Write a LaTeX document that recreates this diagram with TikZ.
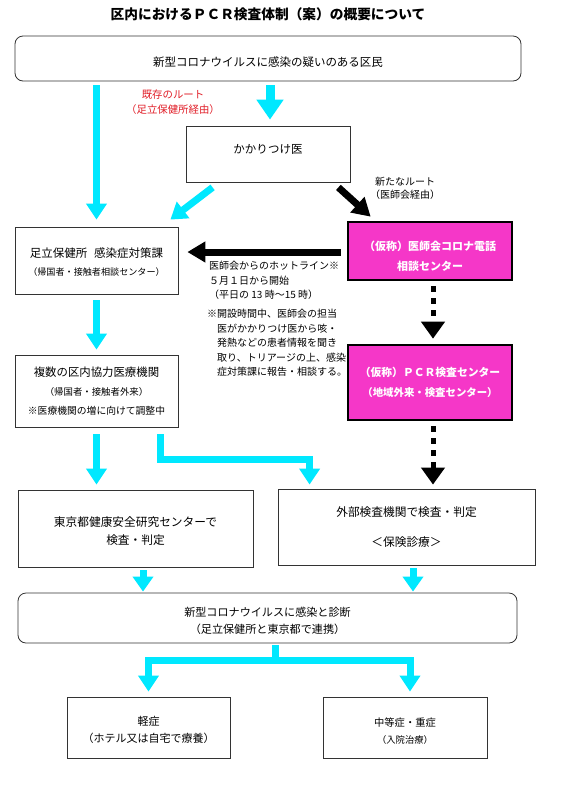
\documentclass[tikz,border=0pt]{standalone}
\usepackage{fontspec}
\setmainfont{Noto Sans CJK JP}
\usetikzlibrary{arrows.meta,calc}
\definecolor{cyC}{RGB}{0,232,255}
\definecolor{mgC}{RGB}{245,55,200}
\definecolor{rdC}{RGB}{225,30,40}
\newcommand{\fsz}[2]{\fontsize{#1}{#2}\selectfont}
\begin{document}
\begin{tikzpicture}[x=1pt,y=-1pt,
  box/.style={draw=black!80, line width=0.8pt, fill=white, inner sep=0pt, align=center, font=\fsz{11.5}{19}},
  rbox/.style={box, rounded corners=8pt},
  mbox/.style={draw=black, line width=2.6pt, fill=mgC, inner sep=0pt, align=center, text=white, font=\bfseries\fsz{11}{20}},
  cyA/.style={draw=cyC, line width=7pt, line join=miter, -{Triangle[width=20pt,length=16pt]}},
  cyB/.style={draw=cyC, line width=9pt, -{Triangle[width=26pt,length=20pt]}},
  cyS/.style={draw=cyC, line width=7pt, -{Triangle[width=20pt,length=15pt]}},
  bkA/.style={draw=black, line width=7pt, -{Triangle[width=20pt,length=18pt]}},
  bkD/.style={draw=black, line width=5pt, dash pattern=on 6pt off 6pt, -{Triangle[width=23pt,length=17pt]}},
  note/.style={inner sep=0pt, align=left, font=\fsz{10}{14.5}},
]
\useasboundingbox (0,0) rectangle (570,801);
\fill[white] (0,0) rectangle (570,801);

% title
\node[inner sep=0pt, font=\bfseries\fsz{13.7}{16}] (title) at (268,14) {区内におけるＰＣＲ検査体制（案）の概要について};

% boxes
\node[rbox, minimum width=506pt, minimum height=45pt] (top) at (268,58.5) {\rule{0pt}{17pt}新型コロナウイルスに感染の疑いのある区民};
\node[box, minimum width=164pt, minimum height=56pt] (kakari) at (268,154) {\rule[-9.5pt]{0pt}{9.5pt}かかりつけ医};
\node[box, minimum width=163pt, minimum height=67pt] (adachi) at (96.5,260.5)
  {\rule{0pt}{13pt}足立保健所\hspace{0.6em}感染症対策課\\[-1pt]{\fsz{9.1}{12}（帰国者・接触者相談センター）}};
\node[mbox, minimum width=164pt, minimum height=58pt] (ishikai) at (430,251)
  {\rule{0pt}{21pt}（仮称）医師会コロナ電話\\相談センター};
\node[mbox, minimum width=164pt, minimum height=75pt, font=\bfseries\fsz{10.8}{20}] (pcr) at (430,382.5)
  {（仮称）ＰＣＲ検査センター\\{\fsz{10.4}{12}（地域外来・検査センター）}};
\node[box, minimum width=163pt, minimum height=72pt, font=\fsz{11.4}{19}] (fukusu) at (96.5,391)
  {複数の区内協力医療機関\\{\fsz{9.4}{12}（帰国者・接触者外来）}\\{\fsz{9.8}{12}※医療機関の増に向けて調整中}};
\node[box, minimum width=235pt, minimum height=77pt, font=\fsz{11.7}{18}] (tokyo) at (135.5,528.5)
  {\rule{0pt}{14pt}東京都健康安全研究センターで\\検査・判定};
\node[box, minimum width=257pt, minimum height=76pt, font=\fsz{11.7}{30}] (gaibu) at (406.5,527)
  {外部検査機関で検査・判定\\＜保険診療＞};
\node[rbox, minimum width=499pt, minimum height=50pt, font=\fsz{11.1}{17}] (diag) at (267.5,618)
  {\rule{0pt}{15pt}新型コロナウイルスに感染と診断\\（足立保健所と東京都で連携）};
\node[box, minimum width=163pt, minimum height=61pt, font=\fsz{11}{17}] (kei) at (148.5,727.5)
  {\rule{0pt}{15pt}軽症\\（ホテル又は自宅で療養）};
\node[box, minimum width=164pt, minimum height=61pt, font=\fsz{10.3}{17}] (chu) at (405,727.5)
  {\rule{0pt}{15pt}中等症・重症\\{\fsz{9.3}{12}（入院治療）}};

% labels
\node[inner sep=0pt, align=center, text=rdC, font=\fsz{10.4}{15}] (oldroute) at (173,102.5)
  {既存のルート\\（足立保健所経由）};
\node[inner sep=0pt, align=center, font=\fsz{10}{13.5}] (newroute) at (405,188.5)
  {新たなルート\\（医師会経由）};
\node[note, anchor=north west] (hotline) at (209,261)
  {医師会からのホットライン※\\５月１日から開始\\（平日の 13 時～15 時）};
\node[note, anchor=north west] (memo) at (207,309)
  {※開設時間中、医師会の担当\\\hspace*{1em}医がかかりつけ医から咳・\\\hspace*{1em}発熱などの患者情報を聞き\\\hspace*{1em}取り、トリアージの上、感染\\\hspace*{1em}症対策課に報告・相談する。};

% connectors
\draw[cyA] ($(top.south -| adachi.north)+(0,4)$) -- ($(adachi.north)+(0,-7)$);
\draw[cyB] ($(top.south -| kakari.north)+(2,4)$) -- ($(kakari.north)+(2,-6)$);
\draw[cyA] ($(kakari.south west)+(27,5)$) -- ($(adachi.north east)+(-8,-7)$);
\draw[bkA] ($(kakari.south east)+(-12,5)$) -- ($(ishikai.north west)+(24,-4)$);
\draw[bkA] ($(ishikai.west)+(-6,1)$) -- ($(adachi.east |- ishikai.west)+(9,1)$);
\draw[bkD] ($(ishikai.south)+(3,5)$) -- ($(ishikai.south |- pcr.north)+(3,-5)$);
\draw[bkD] ($(pcr.south)+(3,5)$) -- ($(pcr.south |- gaibu.north)+(3,-4)$);
\draw[cyA] ($(adachi.south)+(0,6)$) -- ($(fukusu.north)+(0,-5)$);
\draw[cyA] ($(fukusu.south)+(0,7)$) -- ($(fukusu.south |- tokyo.north)+(0,-5)$);
\coordinate (fk) at ($(fukusu.south)+(63.5,7)$);
\coordinate (gb) at ($(gaibu.north west)+(32,-4)$);
\draw[cyA] (fk) |- ($(gb)+(0,-25)$) -- (gb);
\draw[cyS] ($(tokyo.south)+(7.5,3)$) -- ($(tokyo.south |- diag.north)+(7.5,-1)$);
\draw[cyS] ($(gaibu.south)+(6.5,3)$) -- ($(gaibu.south |- diag.north)+(6.5,-1)$);
\coordinate (dg) at ($(diag.south)+(7.5,2)$);
\draw[cyA] (dg) -- ++(0,15) -| ($(kei.north)+(0,-5)$);
\draw[cyA] (dg) -- ++(0,15) -| ($(chu.north)+(5,-5)$);
\end{tikzpicture}
\end{document}
